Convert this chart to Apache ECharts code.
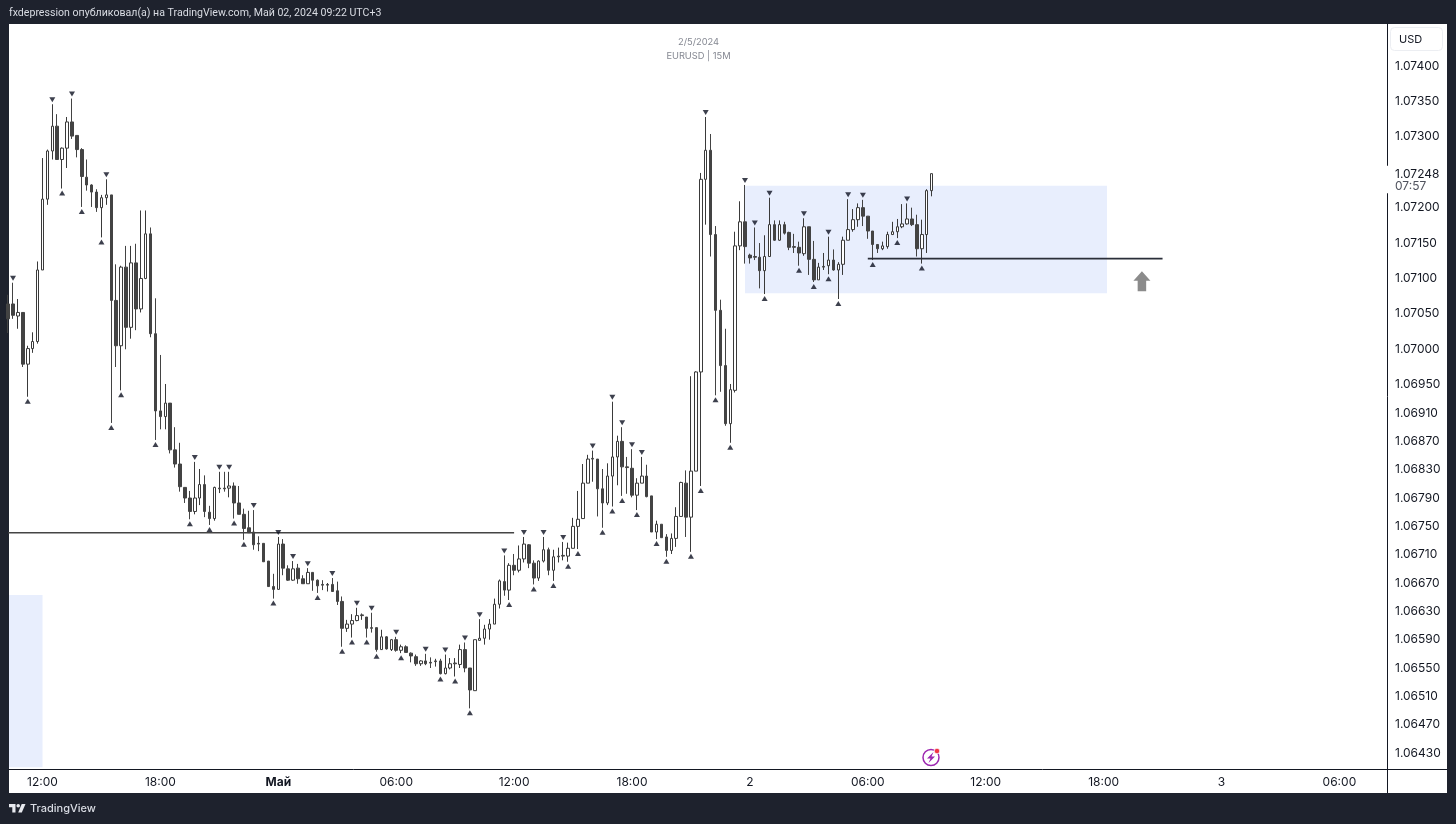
<!DOCTYPE html>
<html>
	<head>
		<meta charset="utf-8" />
		<title>EURUSD 15M</title>
		<style type="text/css">
			html,body{margin:0;padding:0;background:#1e222d;}
			#chart{width:1456px;height:824px;}
		</style>
		<script src="https://cdn.jsdelivr.net/npm/echarts@6/dist/echarts.min.js" type="text/javascript" charset="utf-8"></script>
	</head>
	<body>
		<div id="chart"></div>
		<script type="text/javascript">
			// bar number 0 is 12:00 on the first visible tick, one bar = 15 minutes
			var firstBar = -7;
			var barOpen = [
				1.07064,1.07064,1.07047,1.07052,1.06979,1.07001,1.07011,1.07112,1.07212,1.07280,
				1.07315,1.07268,1.07284,1.07321,1.07302,1.07282,1.07243,1.07232,1.07222,1.07200,
				1.07214,1.07218,1.07069,1.07005,1.07116,1.07031,1.07122,1.07057,1.07100,1.07163,
				1.07022,1.06913,1.06905,1.06924,1.06858,1.06838,1.06805,1.06790,1.06771,1.06790,
				1.06809,1.06770,1.06761,1.06803,1.06804,1.06804,1.06807,1.06783,1.06767,1.06748,
				1.06742,1.06726,1.06726,1.06701,1.06665,1.06661,1.06725,1.06690,1.06674,1.06691,
				1.06676,1.06669,1.06685,1.06674,1.06668,1.06667,1.06668,1.06659,1.06644,1.06606,
				1.06612,1.06617,1.06624,1.06622,1.06607,1.06607,1.06576,1.06594,1.06576,1.06590,
				1.06575,1.06580,1.06571,1.06566,1.06556,1.06560,1.06558,1.06559,1.06560,1.06542,
				1.06550,1.06556,1.06555,1.06576,1.06550,1.06518,1.06589,1.06592,1.06605,1.06612,
				1.06640,1.06672,1.06660,1.06695,1.06688,1.06704,1.06724,1.06698,1.06677,1.06701,
				1.06717,1.06688,1.06707,1.06708,1.06708,1.06719,1.06750,1.06761,1.06811,1.06845,
				1.06845,1.06803,1.06783,1.06821,1.06848,1.06870,1.06834,1.06832,1.06794,1.06811,
				1.06821,1.06793,1.06742,1.06753,1.06735,1.06716,1.06733,1.06764,1.06811,1.06763,
				1.06828,1.06968,1.07240,1.07281,1.07162,1.07055,1.06977,1.06895,1.06942,1.07146,
				1.07180,1.07133,1.07131,1.07130,1.07111,1.07131,1.07176,1.07154,1.07176,1.07165,
				1.07145,1.07144,1.07135,1.07173,1.07127,1.07098,1.07116,1.07118,1.07126,1.07112,
				1.07120,1.07154,1.07169,1.07183,1.07200,1.07188,1.07167,1.07148,1.07142,1.07145,
				1.07162,1.07166,1.07173,1.07177,1.07184,1.07176,1.07142,1.07162,1.07224
			];
			var barClose = [
				1.07043,1.07048,1.07052,1.06979,1.07001,1.07011,1.07112,1.07212,1.07280,1.07315,
				1.07268,1.07284,1.07321,1.07301,1.07282,1.07244,1.07232,1.07222,1.07200,1.07214,
				1.07218,1.07069,1.07005,1.07116,1.07031,1.07122,1.07057,1.07100,1.07163,1.07022,
				1.06913,1.06905,1.06924,1.06858,1.06838,1.06806,1.06790,1.06771,1.06790,1.06809,
				1.06771,1.06761,1.06805,1.06804,1.06803,1.06807,1.06783,1.06767,1.06747,1.06741,
				1.06724,1.06725,1.06700,1.06665,1.06661,1.06725,1.06691,1.06674,1.06690,1.06676,
				1.06669,1.06685,1.06674,1.06666,1.06667,1.06668,1.06658,1.06644,1.06606,1.06612,
				1.06617,1.06624,1.06625,1.06606,1.06606,1.06576,1.06594,1.06577,1.06590,1.06575,
				1.06580,1.06572,1.06567,1.06556,1.06560,1.06556,1.06557,1.06560,1.06542,1.06550,
				1.06556,1.06557,1.06576,1.06550,1.06519,1.06590,1.06592,1.06605,1.06612,1.06640,
				1.06673,1.06660,1.06695,1.06688,1.06704,1.06725,1.06698,1.06677,1.06701,1.06717,
				1.06688,1.06707,1.06708,1.06709,1.06719,1.06750,1.06760,1.06811,1.06845,1.06846,
				1.06803,1.06783,1.06821,1.06848,1.06870,1.06834,1.06833,1.06794,1.06811,1.06821,
				1.06792,1.06742,1.06753,1.06734,1.06716,1.06733,1.06764,1.06812,1.06763,1.06828,
				1.06968,1.07240,1.07281,1.07162,1.07055,1.06977,1.06895,1.06943,1.07146,1.07180,
				1.07145,1.07129,1.07130,1.07111,1.07131,1.07176,1.07154,1.07176,1.07164,1.07144,
				1.07144,1.07136,1.07173,1.07127,1.07098,1.07116,1.07117,1.07126,1.07112,1.07120,
				1.07154,1.07169,1.07183,1.07200,1.07188,1.07167,1.07148,1.07142,1.07146,1.07162,
				1.07166,1.07173,1.07177,1.07184,1.07176,1.07142,1.07162,1.07224,1.07248
			];
			var barLow = [
				1.07023,1.07043,1.07029,1.06975,1.06933,1.06995,1.07008,1.07112,1.07204,1.07268,
				1.07268,1.07227,1.07256,1.07297,1.07271,1.07201,1.07224,1.07201,1.07194,1.07158,
				1.07204,1.06896,1.06975,1.06942,1.07000,1.07015,1.07027,1.07052,1.07099,1.07017,
				1.06872,1.06887,1.06887,1.06853,1.06833,1.06799,1.06783,1.06760,1.06767,1.06780,
				1.06763,1.06752,1.06758,1.06797,1.06799,1.06791,1.06761,1.06767,1.06731,1.06741,
				1.06717,1.06715,1.06700,1.06665,1.06648,1.06661,1.06681,1.06673,1.06673,1.06669,
				1.06669,1.06669,1.06659,1.06656,1.06660,1.06658,1.06658,1.06639,1.06580,1.06601,
				1.06593,1.06616,1.06618,1.06593,1.06600,1.06573,1.06576,1.06576,1.06574,1.06573,
				1.06571,1.06572,1.06558,1.06553,1.06553,1.06554,1.06550,1.06552,1.06541,1.06541,
				1.06548,1.06538,1.06550,1.06544,1.06493,1.06518,1.06589,1.06583,1.06590,1.06612,
				1.06634,1.06652,1.06646,1.06681,1.06685,1.06699,1.06691,1.06668,1.06673,1.06699,
				1.06681,1.06673,1.06699,1.06702,1.06700,1.06719,1.06718,1.06761,1.06811,1.06813,
				1.06764,1.06748,1.06780,1.06778,1.06808,1.06793,1.06796,1.06791,1.06773,1.06811,
				1.06791,1.06742,1.06732,1.06734,1.06707,1.06711,1.06721,1.06764,1.06735,1.06714,
				1.06828,1.06807,1.07176,1.07131,1.06935,1.06940,1.06892,1.06868,1.06939,1.07140,
				1.07121,1.07121,1.07126,1.07086,1.07078,1.07131,1.07153,1.07153,1.07162,1.07140,
				1.07136,1.07118,1.07132,1.07105,1.07095,1.07098,1.07112,1.07106,1.07111,1.07071,
				1.07105,1.07154,1.07166,1.07173,1.07174,1.07156,1.07126,1.07136,1.07140,1.07142,
				1.07162,1.07157,1.07171,1.07176,1.07174,1.07131,1.07121,1.07136,1.07216
			];
			var barHigh = [
				1.07077,1.07094,1.07071,1.07052,1.07005,1.07024,1.07124,1.07270,1.07282,1.07346,
				1.07332,1.07285,1.07328,1.07354,1.07302,1.07284,1.07268,1.07233,1.07226,1.07218,
				1.07240,1.07218,1.07120,1.07118,1.07146,1.07146,1.07149,1.07196,1.07196,1.07172,
				1.07072,1.06992,1.06951,1.06924,1.06890,1.06868,1.06805,1.06800,1.06841,1.06831,
				1.06822,1.06779,1.06806,1.06827,1.06827,1.06827,1.06812,1.06807,1.06775,1.06772,
				1.06773,1.06736,1.06726,1.06701,1.06683,1.06735,1.06732,1.06695,1.06701,1.06697,
				1.06681,1.06691,1.06685,1.06675,1.06674,1.06670,1.06677,1.06672,1.06651,1.06618,
				1.06626,1.06635,1.06627,1.06622,1.06628,1.06607,1.06604,1.06595,1.06591,1.06594,
				1.06583,1.06582,1.06572,1.06569,1.06561,1.06570,1.06565,1.06563,1.06563,1.06569,
				1.06564,1.06564,1.06583,1.06586,1.06550,1.06590,1.06619,1.06611,1.06619,1.06648,
				1.06675,1.06709,1.06698,1.06711,1.06723,1.06735,1.06725,1.06702,1.06702,1.06735,
				1.06720,1.06717,1.06720,1.06728,1.06727,1.06762,1.06800,1.06838,1.06851,1.06857,
				1.06845,1.06831,1.06839,1.06926,1.06878,1.06890,1.06848,1.06859,1.06818,1.06848,
				1.06837,1.06793,1.06758,1.06753,1.06739,1.06740,1.06777,1.06813,1.06829,1.06962,
				1.06969,1.07249,1.07328,1.07304,1.07174,1.07070,1.07029,1.06951,1.07166,1.07209,
				1.07232,1.07135,1.07172,1.07150,1.07161,1.07214,1.07182,1.07182,1.07180,1.07166,
				1.07163,1.07152,1.07185,1.07173,1.07153,1.07122,1.07136,1.07159,1.07141,1.07123,
				1.07159,1.07212,1.07198,1.07206,1.07211,1.07188,1.07167,1.07148,1.07152,1.07166,
				1.07180,1.07184,1.07205,1.07206,1.07200,1.07190,1.07183,1.07226,1.07248
			];
			// bars that carry a swing marker
			var swingHighBars = [-6,2,6,13,31,36,38,43,48,51,54,59,64,67,72,78,82,86,89,94,98,102,106,112,116,118,120,122,135,143,145,148,155,160,164,167,176];
			var swingLowBars = [-7,-3,4,8,12,14,16,23,30,34,39,41,47,56,61,63,66,68,73,81,84,87,95,100,104,107,109,114,116,118,121,125,127,132,134,137,140,147,154,157,160,162,169,174,179];

			var timeTicks = [0,24,48,72,96,120,144,168,192,216,240,264];
			var timeLabels = ['12:00','18:00','Май','06:00','12:00','18:00','2','06:00','12:00','18:00','3','06:00'];
			var priceTicks = [1.074,1.0735,1.073,1.072,1.0715,1.071,1.0705,1.07,1.0695,1.0691,1.0687,1.0683,1.0679,1.0675,1.0671,1.0667,1.0663,1.0659,1.0655,1.0651,1.0647,1.0643];

			var lastPrice = 1.07248;
			var lastCountdown = '07:57';

			// drawn objects: [bar from, bar to, price]
			var levelLeft = [-7,96,1.06741];
			var levelRight = [168,228,1.07128];
			// [bar from, bar to, price top, price bottom]
			var zoneRange = [143,216.7,1.07231,1.07079];
			var zoneOld = [-7,0,1.06653,1.0641];
			var arrowPoint = [223.8,1.07096];

			var fontName = 'Inter, Roboto, "Noto Sans", sans-serif';

			var candles = [];
			for(var i=0;i<barOpen.length;i++){
				candles.push([i+firstBar,barOpen[i],barClose[i],barLow[i],barHigh[i]]);
			}
			function swingPoints(bars,values){
				return bars.map(function(b){ return [b,values[b-firstBar]]; });
			}

			function baseGraphics(){
				return [
					// white panel on the dark frame
					{type:'rect',z:-10,silent:true,shape:{x:9,y:24,width:1438,height:769},style:{fill:'#ffffff'}},
					{type:'line',z:5,silent:true,shape:{x1:1387.5,y1:769,x2:1387.5,y2:793},style:{stroke:'#131722',lineWidth:1}},
					{type:'line',z:5,silent:true,shape:{x1:1387,y1:769.5,x2:1447,y2:769.5},style:{stroke:'#131722',lineWidth:1}},
					{type:'text',z:5,silent:true,style:{x:9,y:13.5,text:'fxdepression опубликовал(а) на TradingView.com, Май 02, 2024 09:22 UTC+3',fill:'#d9dce3',font:'10.6px Roboto, sans-serif',textVerticalAlign:'middle'}},
					// logo bottom left
					{type:'polygon',z:5,silent:true,shape:{points:[[9,804],[15.5,804],[15.5,812.5],[12.3,812.5],[12.3,807.2],[9,807.2]]},style:{fill:'#e8eaef'}},
					{type:'polygon',z:5,silent:true,shape:{points:[[21.7,804],[25.5,804],[21.8,812.5],[18.2,812.5]]},style:{fill:'#e8eaef'}},
					{type:'circle',z:5,silent:true,shape:{cx:18.2,cy:805.8,r:1.8},style:{fill:'#e8eaef'}},
					{type:'text',z:5,silent:true,style:{x:30,y:809,text:'TradingView',fill:'#d9dce3',font:'500 11px '+fontName,textVerticalAlign:'middle'}},
					// currency button
					{type:'rect',z:5,silent:true,shape:{x:1390.5,y:27.5,width:52,height:23,r:4},style:{fill:'#ffffff',stroke:'#eceef2',lineWidth:1}},
					{type:'text',z:6,silent:true,style:{x:1399,y:39.5,text:'USD',fill:'#131722',font:'11px '+fontName,textVerticalAlign:'middle'}},
					// lightning badge
					{type:'circle',z:5,silent:true,shape:{cx:931,cy:757.5,r:8},style:{fill:'#ffffff',stroke:'#9c27b0',lineWidth:1.5}},
					{type:'polygon',z:6,silent:true,shape:{points:[[933.5,752],[927,758.5],[930.5,758.5],[928.5,763],[935,756.5],[931.5,756.5]]},style:{fill:'#9c27b0'}},
					{type:'circle',z:6,silent:true,shape:{cx:937,cy:751,r:2.8},style:{fill:'#f23645',stroke:'#ffffff',lineWidth:0.8}}
				];
			}

			var myChart = echarts.init(document.getElementById('chart'));
			var option = {
				animation:false,
				backgroundColor:'#1e222d',
				textStyle:{fontFamily:fontName},
				title:{
					text:'2/5/2024',
					subtext:'EURUSD | 15M',
					left:693.5,
					top:33,
					textAlign:'center',
					itemGap:5,
					textStyle:{color:'#858892',fontSize:9.3,fontWeight:'normal'},
					subtextStyle:{color:'#858892',fontSize:9.3}
				},
				grid:{left:9,right:69,top:24,bottom:55,containLabel:false},
				xAxis:{
					type:'value',
					min:-6.82,
					max:273.69,
					splitLine:{show:false},
					axisTick:{show:false},
					axisLine:{onZero:false,lineStyle:{color:'#131722',width:1}},
					axisLabel:{
						customValues:timeTicks,
						margin:7,
						color:'#131722',
						fontSize:12,
						formatter:function(v){
							var s = timeLabels[timeTicks.indexOf(v)];
							return s==='Май' ? '{b|'+s+'}' : s;
						},
						rich:{b:{fontWeight:'bold',fontSize:12,color:'#131722'}}
					}
				},
				yAxis:{
					type:'value',
					position:'right',
					min:1.064074,
					max:1.074593,
					splitLine:{show:false},
					axisTick:{show:false},
					axisLine:{show:true,onZero:false,lineStyle:{color:'#131722',width:1}},
					axisLabel:{
						customValues:priceTicks,
						margin:8,
						padding:[4,0,0,0],
						color:'#131722',
						fontSize:12,
						formatter:function(v){ return v.toFixed(5); }
					}
				},
				series:[
					{
						type:'line',
						name:'zones',
						silent:true,
						z:1,
						data:[],
						markArea:{
							silent:true,
							itemStyle:{color:'#e8eefd'},
							data:[
								[{coord:[zoneRange[0],zoneRange[2]]},{coord:[zoneRange[1],zoneRange[3]]}],
								[{coord:[zoneOld[0],zoneOld[2]]},{coord:[zoneOld[1],zoneOld[3]]}]
							]
						}
					},
					{
						type:'candlestick',
						name:'EURUSD',
						silent:true,
						z:3,
						barWidth:3,
						encode:{x:0,y:[1,2,3,4]},
						data:candles,
						itemStyle:{color:'#ffffff',color0:'#434343',borderColor:'#3a3a3a',borderColor0:'#434343',borderWidth:1}
					},
					{
						type:'line',
						silent:true,
						z:4,
						showSymbol:false,
						lineStyle:{color:'#444444',width:1.6},
						data:[[levelLeft[0],levelLeft[2]],[levelLeft[1],levelLeft[2]]]
					},
					{
						type:'line',
						silent:true,
						z:4,
						showSymbol:false,
						lineStyle:{color:'#2a2e39',width:1.6},
						data:[[levelRight[0],levelRight[2]],[levelRight[1],levelRight[2]]]
					},
					{
						type:'scatter',
						silent:true,
						z:4,
						symbol:'triangle',
						symbolSize:[6,5],
						symbolRotate:180,
						symbolOffset:[0,-4.5],
						itemStyle:{color:'#0d1020'},
						data:swingPoints(swingHighBars,barHigh)
					},
					{
						type:'scatter',
						silent:true,
						z:4,
						symbol:'triangle',
						symbolSize:[6,5],
						symbolOffset:[0,4.5],
						itemStyle:{color:'#0d1020'},
						data:swingPoints(swingLowBars,barLow)
					},
					{
						type:'scatter',
						silent:true,
						z:4,
						symbol:'path://M8 0 L16 9 L12 9 L12 19 L4 19 L4 9 L0 9 Z',
						symbolSize:[17,20],
						itemStyle:{color:'#6e6e6e'},
						data:[arrowPoint]
					}
				],
				graphic:{elements:baseGraphics()}
			};
			myChart.setOption(option);

			// price tag sits on the axis at the last close
			var lastY = myChart.convertToPixel({yAxisIndex:0},lastPrice);
			var tag = [
				{type:'rect',z:8,silent:true,shape:{x:1385,y:lastY-8,width:60,height:27.5},style:{fill:'#ffffff'}},
				{type:'text',z:9,silent:true,style:{x:1395,y:lastY+0.5,text:lastPrice.toFixed(5),fill:'#131722',font:'12px '+fontName,textVerticalAlign:'middle'}},
				{type:'text',z:9,silent:true,style:{x:1395,y:lastY+12.5,text:lastCountdown,fill:'#50535e',font:'12px '+fontName,textVerticalAlign:'middle'}}
			];
			myChart.setOption({graphic:{elements:baseGraphics().concat(tag)}});
		</script>
	</body>
</html>
